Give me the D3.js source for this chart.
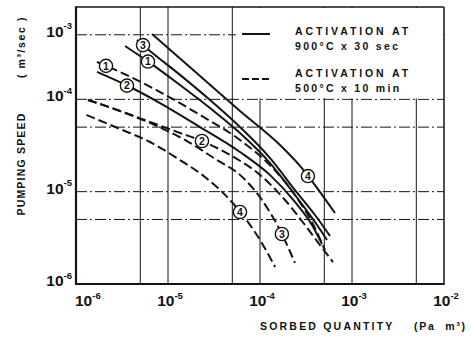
<!DOCTYPE html>
<html>
<head>
<meta charset="utf-8">
<script src="https://cdn.jsdelivr.net/npm/d3@7"></script>
<style>
  html, body { margin: 0; padding: 0; background: #fff; }
  svg { display: block; }
  text { font-family: "Liberation Sans", Arial, sans-serif; font-weight: bold; fill: #111; }
</style>
</head>
<body>
<svg id="chart" width="471" height="337"></svg>
<script>
// Pumping speed (m3/sec) against sorbed quantity (Pa m3)
// Activation at 900°C x 30 sec (solid curves)
const solid1X = [3.41e-6, 6.37e-6, 1.35e-5, 2.86e-5, 6.06e-5, 1.28e-4, 2.40e-4, 3.96e-4, 5.35e-4];
const solid1Y = [3.78e-4, 2.48e-4, 1.43e-4, 8.05e-5, 4.32e-5, 2.05e-5, 9.20e-6, 4.69e-6, 3.00e-6];
const solid2X = [1.69e-6, 3.86e-6, 8.19e-6, 2.23e-5, 6.06e-5, 1.28e-4, 2.40e-4, 3.67e-4, 4.72e-4];
const solid2Y = [1.98e-4, 1.36e-4, 9.12e-5, 5.01e-5, 2.69e-5, 1.52e-5, 7.73e-6, 4.36e-6, 2.71e-6];
const solid3X = [4.60e-6, 6.37e-6, 1.35e-5, 2.86e-5, 6.06e-5, 1.28e-4, 2.40e-4, 3.96e-4, 5.77e-4];
const solid3Y = [4.39e-4, 3.34e-4, 1.84e-4, 9.84e-5, 5.01e-5, 2.32e-5, 1.04e-5, 5.59e-6, 3.31e-6];
const solid4X = [6.70e-6, 2.23e-5, 6.06e-5, 1.65e-4, 2.72e-4, 3.96e-4, 6.53e-4];
const solid4Y = [5.10e-4, 1.79e-4, 7.48e-5, 3.20e-5, 1.90e-5, 1.18e-5, 5.87e-6];

// Activation at 500°C x 10 min (dashed curves)
const dashed1X = [1.69e-6, 3.01e-6, 8.19e-6, 2.23e-5, 6.06e-5, 1.28e-4, 2.40e-4, 3.67e-4, 5.09e-4];
const dashed1Y = [2.54e-4, 1.98e-4, 1.20e-4, 6.77e-5, 3.63e-5, 1.94e-5, 9.20e-6, 4.69e-6, 2.33e-6];
const dashed2X = [1.35e-6, 3.01e-6, 6.37e-6, 1.35e-5, 2.34e-5, 4.72e-5, 1.00e-4, 1.87e-4, 3.08e-4, 4.49e-4, 6.21e-4];
const dashed2Y = [9.84e-5, 7.48e-5, 5.69e-5, 4.32e-5, 3.54e-5, 2.50e-5, 1.52e-5, 8.12e-6, 4.36e-6, 2.64e-6, 1.73e-6];
const dashed3X = [1.35e-6, 3.01e-6, 6.37e-6, 1.53e-5, 3.41e-5, 6.06e-5, 1.05e-4, 1.73e-4, 2.40e-4];
const dashed3Y = [9.84e-5, 7.48e-5, 5.55e-5, 3.63e-5, 2.20e-5, 1.52e-5, 8.12e-6, 3.48e-6, 1.69e-6];
const dashed4X = [1.30e-6, 3.01e-6, 6.37e-6, 1.35e-5, 2.52e-5, 4.72e-5, 6.87e-5, 1.00e-4, 1.46e-4];
const dashed4Y = [6.77e-5, 4.77e-5, 3.45e-5, 2.20e-5, 1.44e-5, 8.12e-6, 5.19e-6, 3.00e-6, 1.53e-6];

// Sample numbers and where along each curve the circled number sits (sorbed quantity)
const sampleIds   = ["1", "2", "3", "4", "1", "2", "3", "4"];
const labelAtX    = [6.06e-6, 3.58e-6, 5.35e-6, 3.32e-4, 2.12e-6, 2.34e-5, 1.73e-4, 6.06e-5];

// Axis ticks and grid
const xTickValues = [1e-6, 1e-5, 1e-4, 1e-3, 1e-2];
const xTickExps   = ["-6", "-5", "-4", "-3", "-2"];
const yTickValues = [5e-4, 1e-4, 1e-5, 1e-6];
const yTickExps   = ["-3", "-4", "-5", "-6"];
const xGridValues = [5e-6, 1e-5, 5e-5, 1e-4, 5e-4, 1e-3, 5e-3];
const yGridValues = [5e-6, 1e-5, 5e-5, 1e-4, 5e-4];

const legendTitles = ["ACTIVATION AT", "ACTIVATION AT"];
const legendConds  = ["900°C x 30 sec", "500°C x 10 min"];

const xs = [solid1X, solid2X, solid3X, solid4X, dashed1X, dashed2X, dashed3X, dashed4X];
const ys = [solid1Y, solid2Y, solid3Y, solid4Y, dashed1Y, dashed2Y, dashed3Y, dashed4Y];
const series = xs.map((xv, i) => ({
  id: sampleIds[i],
  dashed: i >= 4,
  labelX: labelAtX[i],
  points: xv.map((v, j) => ({ x: v, y: ys[i][j] }))
}));

const L = 76, R = 444, T = 7, B = 284;
const x = d3.scaleLog().domain([1e-6, 1e-2]).range([L, R]);
const y = d3.scaleLog().domain([1e-6, 1e-3]).range([B, T]);

const svg = d3.select("#chart");
const ink = "#141414";

// grid
const grid = svg.append("g");
grid.selectAll("line.v").data(xGridValues).join("line")
  .attr("x1", d => x(d)).attr("x2", d => x(d))
  .attr("y1", T).attr("y2", B)
  .attr("stroke", ink).attr("stroke-width", 1);
grid.selectAll("line.h").data(yGridValues).join("line")
  .attr("x1", L).attr("x2", R)
  .attr("y1", d => y(d)).attr("y2", d => y(d))
  .attr("stroke", ink).attr("stroke-width", 1)
  .attr("stroke-dasharray", "11,3,2,3");

// legend panel in the upper right
const lg = svg.append("g");
lg.append("rect").attr("x", 236).attr("y", T + 1).attr("width", R - 237).attr("height", y(1e-4) - T - 2)
  .attr("fill", "#fff");
[0, 1].forEach(i => {
  const yy = i === 0 ? 34 : 79;
  lg.append("line").attr("x1", 242).attr("x2", 270).attr("y1", yy).attr("y2", yy)
    .attr("stroke", ink).attr("stroke-width", 2)
    .attr("stroke-dasharray", i === 0 ? null : "7,3");
  lg.append("text").attr("x", 295).attr("y", i === 0 ? 35 : 77)
    .attr("font-size", 10.5).attr("letter-spacing", 2.9).text(legendTitles[i]);
  lg.append("text").attr("x", 295).attr("y", i === 0 ? 50 : 92)
    .attr("font-size", 10.5).attr("letter-spacing", 2.3).text(legendConds[i]);
});

// frame
svg.append("line").attr("x1", L).attr("x2", R).attr("y1", T).attr("y2", T).attr("stroke", ink).attr("stroke-width", 1.5);
svg.append("line").attr("x1", R).attr("x2", R).attr("y1", T).attr("y2", B).attr("stroke", ink).attr("stroke-width", 1.5);
svg.append("line").attr("x1", L).attr("x2", L).attr("y1", T - 0.75).attr("y2", B + 1).attr("stroke", ink).attr("stroke-width", 2.2);
svg.append("line").attr("x1", L - 1).attr("x2", R + 0.75).attr("y1", B).attr("y2", B).attr("stroke", ink).attr("stroke-width", 2.2);

// curves
const line = d3.line().x(d => x(d.x)).y(d => y(d.y)).curve(d3.curveMonotoneX);
svg.append("g").selectAll("path").data(series).join("path")
  .attr("d", d => line(d.points))
  .attr("fill", "none").attr("stroke", ink).attr("stroke-width", 2)
  .attr("stroke-dasharray", d => d.dashed ? "9,4" : null);

// circled sample numbers placed on their curves
function yOnCurve(pts, xv) {
  const lx = Math.log10(xv);
  for (let k = 0; k < pts.length - 1; k++) {
    const a = Math.log10(pts[k].x), b = Math.log10(pts[k + 1].x);
    if (lx >= a && lx <= b) {
      const t = (lx - a) / (b - a);
      return Math.pow(10, Math.log10(pts[k].y) + t * (Math.log10(pts[k + 1].y) - Math.log10(pts[k].y)));
    }
  }
  return pts[0].y;
}
const marks = svg.append("g").selectAll("g").data(series).join("g")
  .attr("transform", d => `translate(${x(d.labelX)},${y(yOnCurve(d.points, d.labelX))})`);
marks.append("circle").attr("r", 6.6).attr("fill", "#fff").attr("stroke", ink).attr("stroke-width", 1.4);
marks.append("text").attr("text-anchor", "middle").attr("dy", "0.36em")
  .attr("font-size", 10.5).text(d => d.id);

// tick labels
const xl = svg.append("g").selectAll("text").data(xTickValues).join("text")
  .attr("x", (d, i) => i === 0 ? x(d) - 1 : x(d) + 2)
  .attr("y", 306)
  .attr("text-anchor", (d, i) => i === 0 ? "start" : "middle");
xl.append("tspan").attr("font-size", 15.5).text("10");
xl.append("tspan").attr("font-size", 9.5).attr("dy", -7.5).text((d, i) => xTickExps[i]);

const yl = svg.append("g").selectAll("text").data(yTickValues).join("text")
  .attr("x", 72).attr("y", d => y(d) + 2).attr("text-anchor", "end");
yl.append("tspan").attr("font-size", 15.5).text("10");
yl.append("tspan").attr("font-size", 9.5).attr("dy", -7.5).text((d, i) => yTickExps[i]);

// axis titles
svg.append("text").attr("transform", "translate(25,164) rotate(-90)")
  .attr("text-anchor", "middle").attr("font-size", 10.5).attr("letter-spacing", 1.2).text("PUMPING SPEED");
svg.append("text").attr("transform", "translate(25,47) rotate(-90)")
  .attr("text-anchor", "middle").attr("font-size", 10.5).attr("letter-spacing", 1.6).attr("xml:space", "preserve").text("( m³/sec )");
svg.append("text").attr("x", 260).attr("y", 330)
  .attr("font-size", 10.5).attr("letter-spacing", 2.2).text("SORBED QUANTITY");
svg.append("text").attr("x", 414).attr("y", 330)
  .attr("font-size", 10.5).attr("letter-spacing", 1.8).attr("xml:space", "preserve").text("(Pa  m³)");
</script>
</body>
</html>
